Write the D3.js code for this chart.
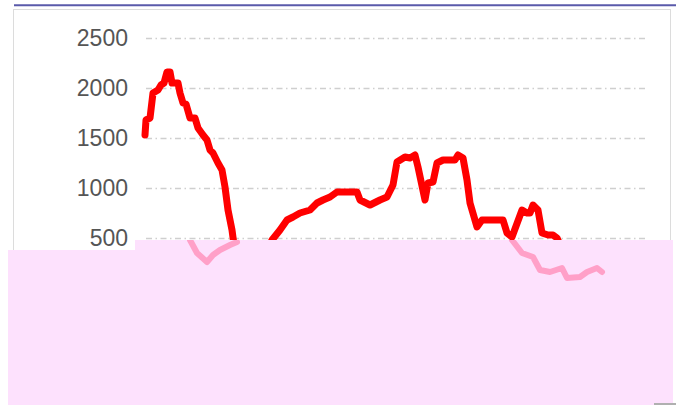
<!DOCTYPE html>
<html>
<head>
<meta charset="utf-8">
<script src="https://cdn.jsdelivr.net/npm/d3@7"></script>
<style>
  body { margin: 0; background: #fff; }
  svg { display: block; }
</style>
</head>
<body>
<div class="holder"></div>
<script>
// y axis ticks
var yTicks = [500, 1000, 1500, 2000, 2500]

// main series (red): position index and value
var redX = [0, 0.2, 1, 1.6, 2.6, 3.2, 3.8, 4.4, 5, 5.4, 6.6, 7, 7.6, 8.2, 9, 10, 10.6, 11.6, 12.4, 13,
  13.6, 14.6, 15.4, 16, 16.6, 17.4, 17.8, 19, 22, 24, 25.4, 27, 28.4, 29.6, 31, 33, 34.4, 35.6, 37, 38.4,
  42.4, 43, 45, 47, 48.4, 49.6, 50.4, 52, 53, 54, 54.6, 56, 56.6, 57.6, 58.4, 59.6, 62, 62.6, 63.6, 64.4,
  65, 66.4, 67.4, 68.4, 71.6, 72.4, 73.4, 75.4, 76.4, 77, 77.6, 78.6, 79.4, 80.6, 81.6, 82.4, 83]
var redY = [1530, 1680, 1700, 1950, 1980, 2030, 2050, 2160, 2160, 2050, 2050, 1950, 1850, 1840, 1700, 1700, 1600, 1530, 1480, 1380,
  1350, 1250, 1180, 1010, 780, 580, 430, 230, 200, 330, 480, 580, 680, 710, 750, 780, 850, 880, 910, 960,
  960, 880, 830, 880, 910, 1030, 1260, 1310, 1300, 1330, 1210, 880, 1050, 1060, 1250, 1280, 1280, 1330, 1300, 1080,
  850, 610, 680, 680, 680, 550, 510, 780, 750, 750, 830, 780, 550, 530, 530, 500, 430]

// second series (pink), only seen inside the covered area; null = gap
var pinkX = [9, 10.4, 12.4, 13.6, 15, 17, 18.4, 46, 73.4, 75.4, 77.6, 79, 81, 83.4, 84.4, 87, 88.4, 90.4, 91.4]
var pinkY = [480, 350, 260, 330, 380, 430, 460, null, 480, 350, 310, 180, 160, 200, 100, 110, 160, 200, 160]

var W = 676, H = 405

var svg = d3.select('.holder')
  .append('svg')
  .attr('width', W)
  .attr('height', H)

// top rule
svg.append('line')
  .attr('x1', 14).attr('x2', W)
  .attr('y1', 5.3).attr('y2', 5.3)
  .attr('stroke', '#5a5aaa')
  .attr('stroke-width', 2)

// panel
svg.append('rect')
  .attr('x', 13.5).attr('y', 9.5)
  .attr('width', 657).attr('height', 390)
  .attr('fill', '#fff')
  .attr('stroke', '#dcdcdc')

var xScale = d3.scaleLinear()
  .domain([0, 100])
  .range([145, 645])

var yScale = d3.scaleLinear()
  .domain([0, 2500])
  .range([288, 38])

var yAxis = d3.axisLeft(yScale)
  .tickValues(yTicks)
  .tickSize(501)
  .tickPadding(16)
  .tickFormat(function(d){ return d })

var yChart = svg.append('g')
  .attr('transform', 'translate(645,0)')
  .call(yAxis)

yChart.select('.domain').remove()
yChart.selectAll('.tick line')
  .attr('stroke', '#cfcfcf')
  .attr('stroke-width', 1.5)
  .attr('stroke-dasharray', '6,3.5,1.5,3.5')
yChart.selectAll('.tick text')
  .attr('fill', '#555')
  .style('font', '23px "Liberation Sans", Arial, sans-serif')

var red = redX.map(function(d, i){ return [d, redY[i]] })
var pink = pinkX.map(function(d, i){ return [d, pinkY[i]] })

var line = d3.line()
  .defined(function(d){ return d[1] != null })
  .x(function(d){ return xScale(d[0]) })
  .y(function(d){ return yScale(d[1]) })

svg.append('path')
  .datum(red)
  .attr('d', line)
  .attr('fill', 'none')
  .attr('stroke', '#ff0000')
  .attr('stroke-width', 7)
  .attr('stroke-linejoin', 'round')
  .attr('stroke-linecap', 'round')

// covering block over the lower part
var cover = svg.append('g')
cover.append('rect')
  .attr('x', 8).attr('y', 250)
  .attr('width', 665).attr('height', H - 250)
  .attr('fill', '#fde1fd')
cover.append('rect')
  .attr('x', 135).attr('y', 240)
  .attr('width', 538).attr('height', 10)
  .attr('fill', '#fde1fd')
svg.append('rect')
  .attr('x', 654).attr('y', 403)
  .attr('width', 22).attr('height', 2)
  .attr('fill', '#b0b0b0')

svg.append('clipPath')
  .attr('id', 'coverClip')
  .append('rect')
  .attr('x', 8).attr('y', 240)
  .attr('width', 665).attr('height', H - 240)

svg.append('path')
  .datum(pink)
  .attr('d', line)
  .attr('clip-path', 'url(#coverClip)')
  .attr('fill', 'none')
  .attr('stroke', '#ffa0c8')
  .attr('stroke-width', 6)
  .attr('stroke-linejoin', 'round')
  .attr('stroke-linecap', 'round')
</script>
</body>
</html>
